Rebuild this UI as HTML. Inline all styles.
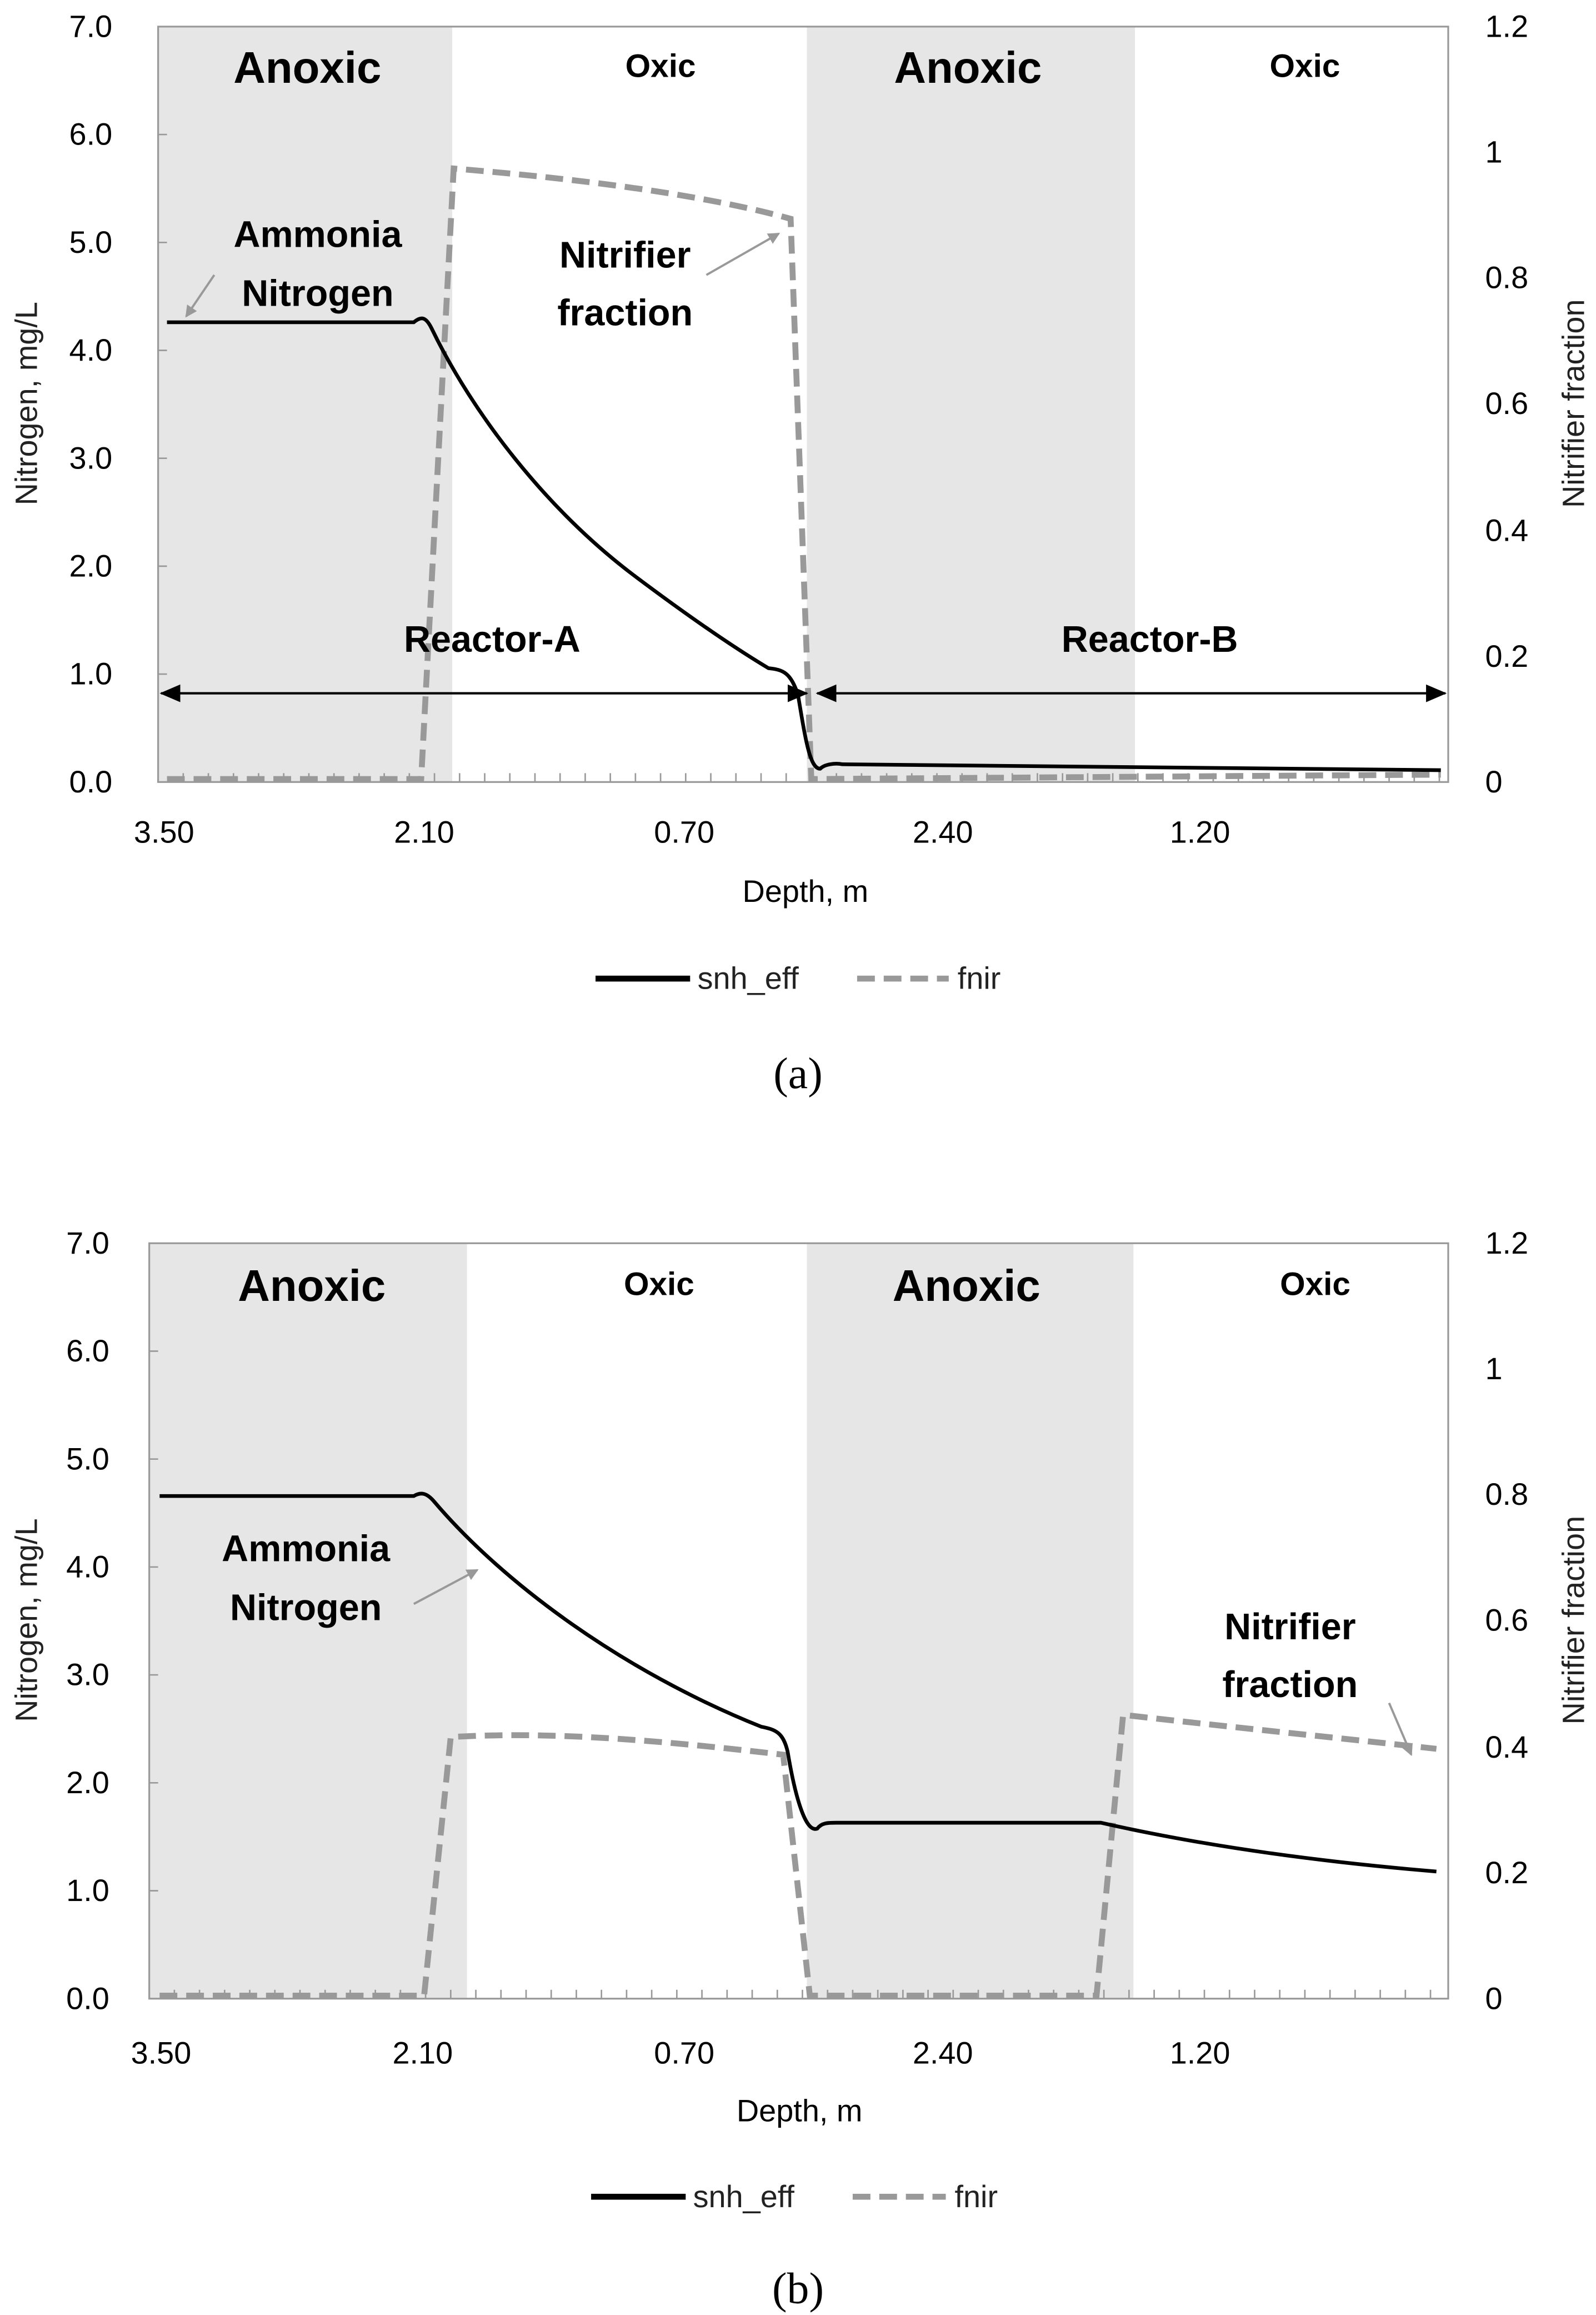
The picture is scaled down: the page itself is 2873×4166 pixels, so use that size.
<!DOCTYPE html>
<html><head><meta charset="utf-8"><style>
html,body{margin:0;padding:0;background:#fff;}
svg{display:block;}
text{font-family:"Liberation Sans Narrow","Liberation Sans",sans-serif;fill:#000;}
.t{font-size:21px;fill:#222;}
.b{font-weight:bold;}
</style></head><body>
<svg width="2873" height="4166" viewBox="0 0 1080 1566" preserveAspectRatio="none" xmlns="http://www.w3.org/2000/svg">
<defs>
<marker id="ah" markerWidth="8" markerHeight="8" refX="7" refY="4" orient="auto" markerUnits="userSpaceOnUse"><path d="M0,0 L8,4 L0,8 z" fill="#999"/></marker>
<marker id="bh" markerWidth="14" markerHeight="12" refX="13" refY="6" orient="auto" markerUnits="userSpaceOnUse"><path d="M0,0 L14,6 L0,12 z" fill="#000"/></marker>
</defs>

<!-- ===== Chart A ===== -->
<rect x="107" y="18" width="199" height="511" fill="#e6e6e6"/>
<rect x="546" y="18" width="222" height="511" fill="#e6e6e6"/>
<rect x="107" y="18" width="873" height="511" fill="none" stroke="#999" stroke-width="1.2"/>
<g stroke="#999" stroke-width="1">
<line x1="107" y1="456" x2="113" y2="456"/><line x1="107" y1="383" x2="113" y2="383"/><line x1="107" y1="310" x2="113" y2="310"/><line x1="107" y1="237" x2="113" y2="237"/><line x1="107" y1="164" x2="113" y2="164"/><line x1="107" y1="91" x2="113" y2="91"/>
</g>
<path d="M107 529 V523 M124 529 V523 M141 529 V523 M158 529 V523 M175 529 V523 M192 529 V523 M209 529 V523 M226 529 V523 M243 529 V523 M260 529 V523 M277 529 V523 M294 529 V523 M311 529 V523 M328 529 V523 M345 529 V523 M362 529 V523 M379 529 V523 M396 529 V523 M413 529 V523 M430 529 V523 M447 529 V523 M464 529 V523 M481 529 V523 M498 529 V523 M515 529 V523 M532 529 V523 M549 529 V523 M566 529 V523 M583 529 V523 M600 529 V523 M617 529 V523 M634 529 V523 M651 529 V523 M668 529 V523 M685 529 V523 M702 529 V523 M719 529 V523 M736 529 V523 M753 529 V523 M770 529 V523 M787 529 V523 M804 529 V523 M821 529 V523 M838 529 V523 M855 529 V523 M872 529 V523 M889 529 V523 M906 529 V523 M923 529 V523 M940 529 V523 M957 529 V523 M974 529 V523" stroke="#999" stroke-width="1"/>
<g class="t" text-anchor="end">
<text x="76" y="536">0.0</text><text x="76" y="463">1.0</text><text x="76" y="390">2.0</text><text x="76" y="317">3.0</text><text x="76" y="244">4.0</text><text x="76" y="171">5.0</text><text x="76" y="98">6.0</text><text x="76" y="25">7.0</text>
</g>
<g class="t">
<text x="1005" y="536">0</text><text x="1005" y="451">0.2</text><text x="1005" y="366">0.4</text><text x="1005" y="280">0.6</text><text x="1005" y="195">0.8</text><text x="1005" y="110">1</text><text x="1005" y="25">1.2</text>
</g>
<g class="t" text-anchor="middle">
<text x="111" y="570">3.50</text><text x="287" y="570">2.10</text><text x="463" y="570">0.70</text><text x="638" y="570">2.40</text><text x="812" y="570">1.20</text>
<text x="545" y="610">Depth, m</text>
</g>
<text class="t" text-anchor="middle" transform="translate(25,273) rotate(-90)">Nitrogen, mg/L</text>
<text class="t" text-anchor="middle" transform="translate(1072,273) rotate(-90)">Nitrifier fraction</text>
<!-- fnir A -->
<path d="M113 527 L285 527 L307 114 C380 120 470 130 535 148 L549 527 L975 524" fill="none" stroke="#999" stroke-width="4" stroke-dasharray="12,6"/>
<!-- snh A -->
<path d="M113 218 L280 218 C285 214 288 214 292 222 C320 280 370 345 430 390 C470 420 500 440 520 452 C530 453 535 455 540 470 C545 500 548 520 555 520 C558 517 565 516 570 517 L975 521" fill="none" stroke="#000" stroke-width="2.5"/>
<!-- reactor arrows -->
<line x1="109" y1="469" x2="546" y2="469" stroke="#000" stroke-width="1.5" marker-end="url(#bh)"/>
<line x1="546" y1="469" x2="109" y2="469" stroke="#000" stroke-width="1.5" marker-end="url(#bh)"/>
<line x1="553" y1="469" x2="978" y2="469" stroke="#000" stroke-width="1.5" marker-end="url(#bh)"/>
<line x1="978" y1="469" x2="553" y2="469" stroke="#000" stroke-width="1.5" marker-end="url(#bh)"/>
<g class="b" text-anchor="middle">
<text x="208" y="56" font-size="30">Anoxic</text><text x="655" y="56" font-size="30">Anoxic</text>
<text x="447" y="52" font-size="22">Oxic</text><text x="883" y="52" font-size="22">Oxic</text>
<text x="215" y="167" font-size="25">Ammonia</text><text x="215" y="207" font-size="25">Nitrogen</text>
<text x="423" y="181" font-size="25">Nitrifier</text><text x="423" y="220" font-size="25">fraction</text>
<text x="333" y="441" font-size="25">Reactor-A</text><text x="778" y="441" font-size="25">Reactor-B</text>
</g>
<line x1="145" y1="186" x2="126" y2="214" stroke="#999" stroke-width="1.5" marker-end="url(#ah)"/>
<line x1="478" y1="186" x2="527" y2="158" stroke="#999" stroke-width="1.5" marker-end="url(#ah)"/>
<!-- legend A -->
<line x1="403" y1="662" x2="467" y2="662" stroke="#000" stroke-width="4"/>
<text class="t" x="472" y="669">snh_eff</text>
<line x1="580" y1="662" x2="642" y2="662" stroke="#999" stroke-width="4" stroke-dasharray="12,6"/>
<text class="t" x="648" y="669">fnir</text>
<text x="540" y="736" text-anchor="middle" font-size="30" style="font-family:'Liberation Serif',serif">(a)</text>

<!-- ===== Chart B ===== -->
<rect x="101" y="841" width="215" height="511" fill="#e6e6e6"/>
<rect x="546" y="841" width="221" height="511" fill="#e6e6e6"/>
<rect x="101" y="841" width="879" height="511" fill="none" stroke="#999" stroke-width="1.2"/>
<g stroke="#999" stroke-width="1">
<line x1="101" y1="1279" x2="107" y2="1279"/><line x1="101" y1="1206" x2="107" y2="1206"/><line x1="101" y1="1133" x2="107" y2="1133"/><line x1="101" y1="1060" x2="107" y2="1060"/><line x1="101" y1="987" x2="107" y2="987"/><line x1="101" y1="914" x2="107" y2="914"/>
</g>
<path d="M101 1352 V1346 M118 1352 V1346 M135 1352 V1346 M152 1352 V1346 M169 1352 V1346 M186 1352 V1346 M203 1352 V1346 M220 1352 V1346 M237 1352 V1346 M254 1352 V1346 M271 1352 V1346 M288 1352 V1346 M305 1352 V1346 M322 1352 V1346 M339 1352 V1346 M356 1352 V1346 M373 1352 V1346 M390 1352 V1346 M407 1352 V1346 M424 1352 V1346 M441 1352 V1346 M458 1352 V1346 M475 1352 V1346 M492 1352 V1346 M509 1352 V1346 M526 1352 V1346 M543 1352 V1346 M560 1352 V1346 M577 1352 V1346 M594 1352 V1346 M611 1352 V1346 M628 1352 V1346 M645 1352 V1346 M662 1352 V1346 M679 1352 V1346 M696 1352 V1346 M713 1352 V1346 M730 1352 V1346 M747 1352 V1346 M764 1352 V1346 M781 1352 V1346 M798 1352 V1346 M815 1352 V1346 M832 1352 V1346 M849 1352 V1346 M866 1352 V1346 M883 1352 V1346 M900 1352 V1346 M917 1352 V1346 M934 1352 V1346 M951 1352 V1346 M968 1352 V1346" stroke="#999" stroke-width="1"/>
<g class="t" text-anchor="end">
<text x="74" y="1359">0.0</text><text x="74" y="1286">1.0</text><text x="74" y="1213">2.0</text><text x="74" y="1140">3.0</text><text x="74" y="1067">4.0</text><text x="74" y="994">5.0</text><text x="74" y="921">6.0</text><text x="74" y="848">7.0</text>
</g>
<g class="t">
<text x="1005" y="1359">0</text><text x="1005" y="1274">0.2</text><text x="1005" y="1189">0.4</text><text x="1005" y="1103">0.6</text><text x="1005" y="1018">0.8</text><text x="1005" y="933">1</text><text x="1005" y="848">1.2</text>
</g>
<g class="t" text-anchor="middle">
<text x="109" y="1396">3.50</text><text x="286" y="1396">2.10</text><text x="463" y="1396">0.70</text><text x="638" y="1396">2.40</text><text x="812" y="1396">1.20</text>
<text x="541" y="1435">Depth, m</text>
</g>
<text class="t" text-anchor="middle" transform="translate(25,1096) rotate(-90)">Nitrogen, mg/L</text>
<text class="t" text-anchor="middle" transform="translate(1072,1096) rotate(-90)">Nitrifier fraction</text>
<!-- fnir B -->
<path d="M108 1350 L287 1350 L305 1175 C360 1172 420 1174 530 1187 L548 1350 L742 1350 L760 1160 C830 1168 900 1175 972 1183" fill="none" stroke="#999" stroke-width="4" stroke-dasharray="12,6"/>
<!-- snh B -->
<path d="M108 1012 L280 1012 C285 1009 289 1010 294 1016 C340 1070 420 1130 515 1168 C525 1170 530 1172 533 1185 C538 1215 545 1240 553 1237 C556 1233 560 1233 566 1233 L745 1233 C820 1250 900 1260 972 1266" fill="none" stroke="#000" stroke-width="2.5"/>
<g class="b" text-anchor="middle">
<text x="211" y="880" font-size="30">Anoxic</text><text x="654" y="880" font-size="30">Anoxic</text>
<text x="446" y="876" font-size="22">Oxic</text><text x="890" y="876" font-size="22">Oxic</text>
<text x="207" y="1056" font-size="25">Ammonia</text><text x="207" y="1096" font-size="25">Nitrogen</text>
<text x="873" y="1109" font-size="25">Nitrifier</text><text x="873" y="1148" font-size="25">fraction</text>
</g>
<line x1="280" y1="1085" x2="323" y2="1062" stroke="#999" stroke-width="1.5" marker-end="url(#ah)"/>
<line x1="940" y1="1152" x2="955" y2="1187" stroke="#999" stroke-width="1.5" marker-end="url(#ah)"/>
<!-- legend B -->
<line x1="400" y1="1486" x2="464" y2="1486" stroke="#000" stroke-width="4"/>
<text class="t" x="469" y="1493">snh_eff</text>
<line x1="577" y1="1486" x2="640" y2="1486" stroke="#999" stroke-width="4" stroke-dasharray="12,6"/>
<text class="t" x="646" y="1493">fnir</text>
<text x="540" y="1558" text-anchor="middle" font-size="30" style="font-family:'Liberation Serif',serif">(b)</text>
</svg>
</body></html>
